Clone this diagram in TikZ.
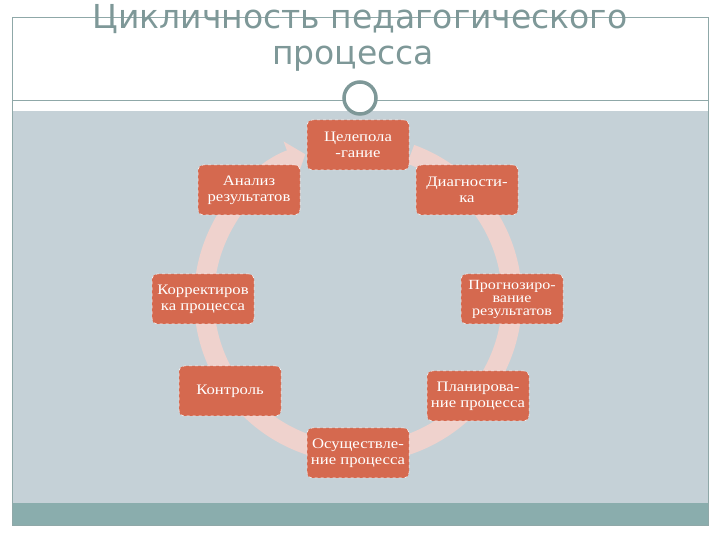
\documentclass[tikz,border=0pt]{standalone}
\usepackage{fontspec}
\setmainfont{Liberation Serif}[FakeStretch=1.15]
\newfontfamily\titlefont{DejaVu Sans}
\usepackage{xcolor}
\usetikzlibrary{arrows.meta,positioning,calc}
\definecolor{slidegray}{HTML}{C5D1D7}
\definecolor{bandteal}{HTML}{8AADAD}
\definecolor{linegray}{HTML}{8FA8A8}
\definecolor{titlegray}{HTML}{7E9898}
\definecolor{ringpink}{HTML}{EFD2CD}
\definecolor{boxred}{HTML}{D5694F}

\begin{document}
\begin{tikzpicture}[x=1pt, y=1pt, every node/.style={font=\fontsize{14.5}{16}\selectfont},
stage/.style={draw=white, dashed, line width=0.5pt, fill=boxred, text=white, rounded corners=5pt,
  align=center, minimum width=102pt, minimum height=50pt, inner sep=2pt}]
\useasboundingbox (0,0) rectangle (720,540);
% slide background
\fill[slidegray] (12,37) rectangle (708,429);
\fill[bandteal] (12,15) rectangle (708,37);
\draw[linegray, line width=0.8pt] (12,15) rectangle (708,523);
\draw[linegray, line width=0.8pt] (12,440) -- (708,440);
\node[circle, draw=titlegray, line width=3.5pt, fill=white, minimum size=32pt, inner sep=0pt] (ring) at (360,442) {};
% title
\node[font=\titlefont\fontsize{33}{36}\selectfont, text=titlegray, anchor=base] (title1) at (360,511) {Цикличность педагогического};
\node[font=\titlefont\fontsize{33}{36}\selectfont, text=titlegray, anchor=base] (title2) at (353,475) {процесса};
% cycle arrow
\coordinate (mid) at (358,241);
\draw[ringpink, line width=20pt, -{Triangle[width=38pt,length=16pt]}]
  ($(mid)+(70:154)$) arc[start angle=70, end angle=-250, radius=154];
% stages
\node[stage] (goal) at (358,395) {Целепола\\-гание};
\node[stage] (diag) at (467,350) {Диагности-\\ка};
\node[stage, font=\fontsize{14}{13}\selectfont] (progn) at (512,241) {Прогнозиро-\\вание\\результатов};
\node[stage] (plan) at (478,144) {Планирова-\\ние процесса};
\node[stage] (impl) at (358,87) {Осуществле-\\ние процесса};
\node[stage] (ctrl) at (230,149) {Контроль};
\node[stage] (corr) at (203,241) {Корректиров\\ка процесса};
\node[stage] (anal) at (249,350) {Анализ\\результатов};
\end{tikzpicture}
\end{document}
